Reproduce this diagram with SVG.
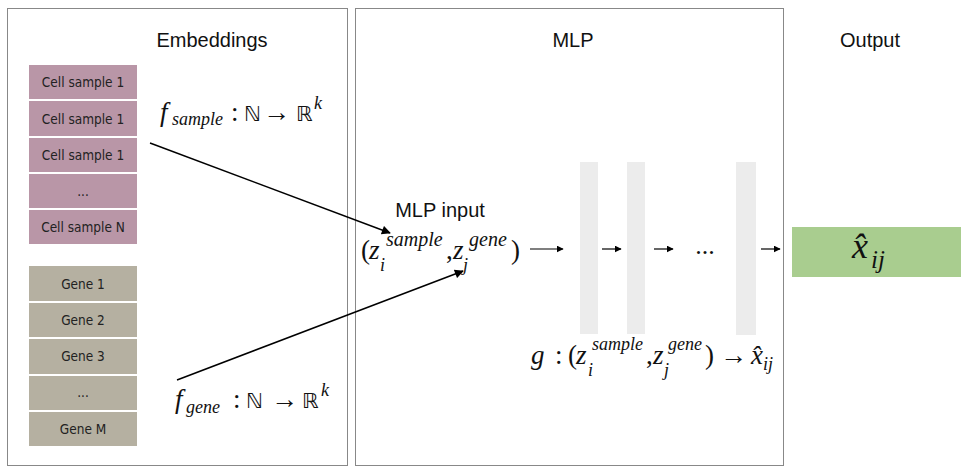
<svg xmlns="http://www.w3.org/2000/svg" width="961" height="468" viewBox="0 0 961 468">
<defs>
<marker id="ah" viewBox="0 0 10 10" refX="9" refY="5" markerWidth="7" markerHeight="7" markerUnits="userSpaceOnUse" orient="auto">
<path d="M0,0 L10,5 L0,10 z" fill="#000"/>
</marker>
<marker id="ahL" viewBox="0 0 10 10" refX="9" refY="5" markerWidth="11" markerHeight="9" markerUnits="userSpaceOnUse" orient="auto">
<path d="M0,0 L10,5 L0,10 z" fill="#000"/>
</marker>
</defs>
<style>
.panel{fill:none;stroke:#111;stroke-width:1;stroke-dasharray:1 1}
.title{font-family:"Liberation Sans",Arial,sans-serif;font-size:20px;fill:#111;text-anchor:middle}
.cell{fill:#b996a7}
.gene{fill:#b5b0a1}
.lbl{font-family:"DejaVu Sans Condensed","DejaVu Sans",sans-serif;font-size:13.5px;fill:#222;text-anchor:middle}
.bar{fill:#ececec}
.m{font-family:"Liberation Serif","Times New Roman",serif;fill:#111}
.mi{font-style:italic}
.big{font-size:27px}
.sup{font-size:20px}
.sup2{font-size:18px}
.sub{font-size:18px}
.ds{font-family:"DejaVu Sans",sans-serif;font-size:21px;fill:#111}
.conn{stroke:#000;fill:none}
</style>
<rect width="961" height="468" fill="#fff"/>
<g id="panels">
<rect class="panel" x="7.5" y="8.5" width="340" height="457"/>
<rect class="panel" x="355.5" y="8.5" width="428" height="457"/>
</g>
<g id="titles">
<text class="title" x="212" y="47">Embeddings</text>
<text class="title" x="573" y="47">MLP</text>
<text class="title" x="870" y="47">Output</text>
</g>
<g id="cell-samples">
<rect class="cell" x="29" y="65" width="108" height="34"/><text class="lbl" x="83" y="87">Cell sample 1</text>
<rect class="cell" x="29" y="101" width="108" height="35"/><text class="lbl" x="83" y="124">Cell sample 1</text>
<rect class="cell" x="29" y="138" width="108" height="34"/><text class="lbl" x="83" y="160">Cell sample 1</text>
<rect class="cell" x="29" y="174" width="108" height="34"/><text class="lbl" x="83" y="196">...</text>
<rect class="cell" x="29" y="210" width="108" height="34"/><text class="lbl" x="83" y="232">Cell sample N</text>
</g>
<g id="genes">
<rect class="gene" x="29" y="266" width="108" height="35"/><text class="lbl" x="83" y="289">Gene 1</text>
<rect class="gene" x="29" y="303" width="108" height="34"/><text class="lbl" x="83" y="325">Gene 2</text>
<rect class="gene" x="29" y="339" width="108" height="35"/><text class="lbl" x="83" y="361">Gene 3</text>
<rect class="gene" x="29" y="376" width="108" height="34"/><text class="lbl" x="83" y="397">...</text>
<rect class="gene" x="29" y="412" width="108" height="34"/><text class="lbl" x="83" y="434">Gene M</text>
</g>
<g id="f-sample">
<text class="m mi big" x="160" y="121">f</text>
<text class="m mi sub" x="172" y="125">sample</text>
<text class="m big" x="231" y="121">:</text>
<text class="ds" x="244" y="121">ℕ</text>
<text class="m big" x="263" y="121">→</text>
<text class="ds" x="296" y="121">ℝ</text>
<text class="m mi sub" x="314" y="109">k</text>
</g>
<g id="f-gene">
<text class="m mi big" x="175" y="408">f</text>
<text class="m mi sub" x="186" y="413">gene</text>
<text class="m big" x="233" y="408">:</text>
<text class="ds" x="246" y="408">ℕ</text>
<text class="m big" x="271" y="408">→</text>
<text class="ds" x="302" y="408">ℝ</text>
<text class="m mi sub" x="321" y="396">k</text>
</g>
<g id="mlp-input">
<text class="title" x="440" y="217">MLP input</text>
<text class="m big" x="361" y="259">(</text>
<text class="m mi big" x="369" y="259">z</text>
<text class="m mi sup" x="386" y="246">sample</text>
<text class="m mi sub" x="380" y="271">i</text>
<text class="m big" x="446" y="259">,</text>
<text class="m mi big" x="453" y="259">z</text>
<text class="m mi sup" x="469" y="246">gene</text>
<text class="m mi sub" x="463" y="271">j</text>
<text class="m big" x="511" y="259">)</text>
</g>
<g id="layers">
<rect class="bar" x="580" y="162" width="18" height="172"/>
<rect class="bar" x="627" y="162" width="18" height="172"/>
<rect class="bar" x="736" y="162" width="20" height="173"/>
<text class="m" x="705" y="254" style="font-size:26px;text-anchor:middle">...</text>
</g>
<g id="g-formula">
<text class="m mi big" x="531" y="364">g</text>
<text class="m big" x="555" y="364">:</text>
<text class="m big" x="568" y="364">(</text>
<text class="m mi big" x="576" y="364">z</text>
<text class="m mi sup2" x="592" y="350">sample</text>
<text class="m mi sub" x="588" y="376">i</text>
<text class="m big" x="646" y="364">,</text>
<text class="m mi big" x="653" y="364">z</text>
<text class="m mi sup2" x="668" y="350">gene</text>
<text class="m mi sub" x="664" y="376">j</text>
<text class="m big" x="705" y="364">)</text>
<text class="m big" x="720" y="364">→</text>
<text class="m mi big" x="751" y="364">x̂</text>
<text class="m mi sub" x="763" y="370">ij</text>
</g>
<g id="output">
<rect x="792" y="227" width="169" height="50" fill="#a9cd8f"/>
<text class="m mi" x="852" y="258" style="font-size:36px">x̂</text>
<text class="m mi" x="871" y="268" style="font-size:25px">ij</text>
</g>
<g id="connectors">
<line class="conn" x1="150" y1="143" x2="390" y2="233" stroke-width="1.5" marker-end="url(#ahL)"/>
<line class="conn" x1="177" y1="380" x2="463" y2="271" stroke-width="1.5" marker-end="url(#ahL)"/>
<line class="conn" x1="530" y1="249" x2="563" y2="249" stroke-width="1.2" marker-end="url(#ah)"/>
<line class="conn" x1="602" y1="249" x2="621" y2="249" stroke-width="1.2" marker-end="url(#ah)"/>
<line class="conn" x1="654" y1="249" x2="673" y2="249" stroke-width="1.2" marker-end="url(#ah)"/>
<line class="conn" x1="761" y1="249" x2="780" y2="249" stroke-width="1.2" marker-end="url(#ah)"/>
</g>
</svg>
